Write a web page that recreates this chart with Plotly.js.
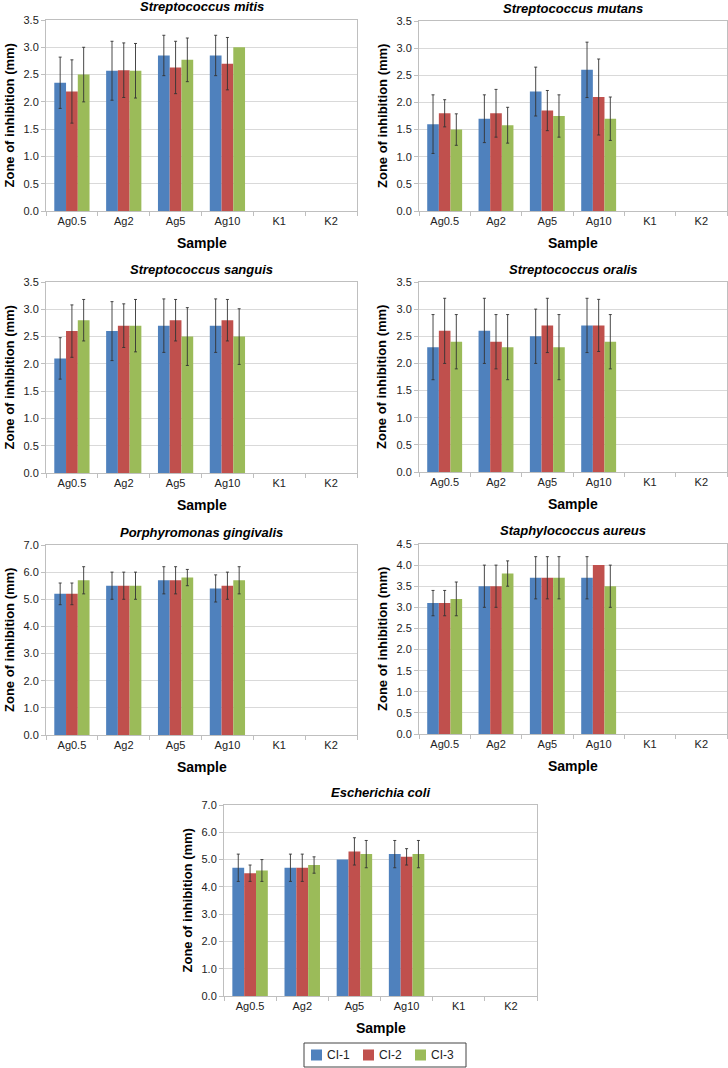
<!DOCTYPE html>
<html>
<head>
<meta charset="utf-8">
<script src="https://cdn.plot.ly/plotly-3.0.1.min.js"></script>
<style>html,body{margin:0;padding:0;background:#fff;}#chart{width:728px;height:1068px;}</style>
</head>
<body>
<div id="chart"></div>
<script>
// ---- data ----
const categories = ["Ag0.5", "Ag2", "Ag5", "Ag10", "K1", "K2"];
const seriesNames = ["CI-1", "CI-2", "CI-3"];

const titles = ["Streptococcus mitis", "Streptococcus mutans", "Streptococcus sanguis",
  "Streptococcus oralis", "Porphyromonas gingivalis", "Staphylococcus aureus", "Escherichia coli"];

// S. mitis
const mitisCI1 = [2.35, 2.57, 2.85, 2.85, 0, 0];
const mitisCI2 = [2.19, 2.58, 2.63, 2.70, 0, 0];
const mitisCI3 = [2.50, 2.57, 2.77, 3.00, 0, 0];
const mitisErr1 = [0.47, 0.54, 0.37, 0.37, 0, 0];
const mitisErr2 = [0.58, 0.50, 0.48, 0.48, 0, 0];
const mitisErr3 = [0.50, 0.50, 0.40, 0, 0, 0];

// S. mutans
const mutansCI1 = [1.60, 1.70, 2.20, 2.60, 0, 0];
const mutansCI2 = [1.80, 1.80, 1.85, 2.10, 0, 0];
const mutansCI3 = [1.50, 1.58, 1.75, 1.70, 0, 0];
const mutansErr1 = [0.54, 0.44, 0.45, 0.51, 0, 0];
const mutansErr2 = [0.25, 0.44, 0.37, 0.70, 0, 0];
const mutansErr3 = [0.29, 0.33, 0.39, 0.40, 0, 0];

// S. sanguis
const sanguisCI1 = [2.10, 2.60, 2.70, 2.70, 0, 0];
const sanguisCI2 = [2.60, 2.70, 2.80, 2.80, 0, 0];
const sanguisCI3 = [2.80, 2.70, 2.50, 2.50, 0, 0];
const sanguisErr1 = [0.38, 0.54, 0.49, 0.49, 0, 0];
const sanguisErr2 = [0.48, 0.40, 0.38, 0.38, 0, 0];
const sanguisErr3 = [0.38, 0.48, 0.53, 0.51, 0, 0];

// S. oralis
const oralisCI1 = [2.30, 2.60, 2.50, 2.70, 0, 0];
const oralisCI2 = [2.60, 2.40, 2.70, 2.70, 0, 0];
const oralisCI3 = [2.40, 2.30, 2.30, 2.40, 0, 0];
const oralisErr1 = [0.60, 0.60, 0.50, 0.50, 0, 0];
const oralisErr2 = [0.60, 0.50, 0.50, 0.48, 0, 0];
const oralisErr3 = [0.50, 0.60, 0.60, 0.50, 0, 0];

// P. gingivalis
const gingCI1 = [5.2, 5.5, 5.7, 5.4, 0, 0];
const gingCI2 = [5.2, 5.5, 5.7, 5.5, 0, 0];
const gingCI3 = [5.7, 5.5, 5.8, 5.7, 0, 0];
const gingErr1 = [0.4, 0.5, 0.5, 0.5, 0, 0];
const gingErr2 = [0.4, 0.5, 0.5, 0.5, 0, 0];
const gingErr3 = [0.5, 0.5, 0.3, 0.5, 0, 0];

// S. aureus
const aureusCI1 = [3.1, 3.5, 3.7, 3.7, 0, 0];
const aureusCI2 = [3.1, 3.5, 3.7, 4.0, 0, 0];
const aureusCI3 = [3.2, 3.8, 3.7, 3.5, 0, 0];
const aureusErr1 = [0.3, 0.5, 0.5, 0.5, 0, 0];
const aureusErr2 = [0.3, 0.5, 0.5, 0, 0, 0];
const aureusErr3 = [0.4, 0.3, 0.5, 0.5, 0, 0];

// E. coli
const coliCI1 = [4.7, 4.7, 5.0, 5.2, 0, 0];
const coliCI2 = [4.5, 4.7, 5.3, 5.1, 0, 0];
const coliCI3 = [4.6, 4.8, 5.2, 5.2, 0, 0];
const coliErr1 = [0.5, 0.5, 0, 0.5, 0, 0];
const coliErr2 = [0.3, 0.5, 0.5, 0.3, 0, 0];
const coliErr3 = [0.4, 0.3, 0.5, 0.5, 0, 0];

const yMax = [3.5, 3.5, 3.5, 3.5, 7.0, 4.5, 7.0];
const yStep = [0.5, 0.5, 0.5, 0.5, 1.0, 0.5, 1.0];

// ---- assembly ----
const panelValues = [
  [mitisCI1, mitisCI2, mitisCI3], [mutansCI1, mutansCI2, mutansCI3],
  [sanguisCI1, sanguisCI2, sanguisCI3], [oralisCI1, oralisCI2, oralisCI3],
  [gingCI1, gingCI2, gingCI3], [aureusCI1, aureusCI2, aureusCI3],
  [coliCI1, coliCI2, coliCI3]];
const panelErrors = [
  [mitisErr1, mitisErr2, mitisErr3], [mutansErr1, mutansErr2, mutansErr3],
  [sanguisErr1, sanguisErr2, sanguisErr3], [oralisErr1, oralisErr2, oralisErr3],
  [gingErr1, gingErr2, gingErr3], [aureusErr1, aureusErr2, aureusErr3],
  [coliErr1, coliErr2, coliErr3]];

const colors = ["#4F81BD", "#C0504D", "#9BBB59"];
const W = 728, H = 1068;
// plot-area pixel boxes [left, right, top, bottom]
const boxes = [
  [46, 357, 20, 211], [419, 727, 21, 211],
  [46, 357, 282, 473], [419, 727, 282, 472],
  [46, 357, 545, 735], [419, 727, 544, 734],
  [224, 537, 805, 996]];

const FONT = "Liberation Sans, Arial, sans-serif";
const traces = [];
const layout = {
  width: W, height: H,
  margin: {l: 0, r: 0, t: 0, b: 0},
  paper_bgcolor: "#fff", plot_bgcolor: "#fff",
  barmode: "group", bargap: 0.32, bargroupgap: 0,
  font: {family: FONT, color: "#222", size: 11},
  showlegend: false,
  annotations: [],
  shapes: []
};

boxes.forEach((b, i) => {
  const ax = i === 0 ? "" : String(i + 1);
  const xd = [b[0] / W, Math.min(b[1] / W, 1)];
  const yd = [1 - b[3] / H, 1 - b[2] / H];
  for (let s = 0; s < 3; s++) {
    // zero error -> no error bar drawn
    const errs = panelErrors[i][s].map(e => (e > 0 ? e : NaN));
    traces.push({
      type: "bar", x: categories, y: panelValues[i][s], name: seriesNames[s],
      xaxis: "x" + ax, yaxis: "y" + ax,
      marker: {color: colors[s]},
      error_y: {type: "data", array: errs, visible: true,
        color: "#333", thickness: 0.9, width: 1.5}
    });
  }
  layout["xaxis" + ax] = {
    domain: xd, anchor: "y" + ax, type: "category",
    showline: true, linecolor: "#bfbfbf", linewidth: 1, mirror: true,
    ticks: "outside", tickson: "boundaries", ticklen: 4, tickcolor: "#bfbfbf",
    showgrid: false, tickfont: {size: 11, family: FONT, color: "#222"},
    fixedrange: true
  };
  layout["yaxis" + ax] = {
    domain: yd, anchor: "x" + ax, range: [0, yMax[i]], dtick: yStep[i], tick0: 0,
    tickformat: ".1f", showline: true, linecolor: "#bfbfbf", linewidth: 1, mirror: true,
    ticks: "outside", ticklen: 4, tickcolor: "#bfbfbf",
    showgrid: true, gridcolor: "#d9d9d9", gridwidth: 1, zeroline: false,
    tickfont: {size: 11, family: FONT, color: "#222"}, fixedrange: true
  };
  const cx = (b[0] + b[1]) / 2 / W;
  layout.annotations.push({
    xref: "paper", yref: "paper", x: cx, y: 1 - (b[2] - 13) / H,
    text: "<b><i>" + titles[i] + "</i></b>", showarrow: false,
    font: {size: 13, family: FONT, color: "#000"}, xanchor: "center", yanchor: "middle"
  });
  layout.annotations.push({
    xref: "paper", yref: "paper", x: cx, y: 1 - (b[3] + 32) / H,
    text: "<b>Sample</b>", showarrow: false,
    font: {size: 14, family: FONT, color: "#000"}, xanchor: "center", yanchor: "middle"
  });
  layout.annotations.push({
    xref: "paper", yref: "paper", x: (b[0] - 37) / W, y: 1 - (b[2] + b[3]) / 2 / H,
    text: "<b>Zone of inhibition (mm)</b>", showarrow: false, textangle: -90,
    font: {size: 13, family: FONT, color: "#000"}, xanchor: "center", yanchor: "middle"
  });
});

// ---- legend (drawn as a boxed key, series names from seriesNames) ----
const legBox = [304, 466, 1043, 1067];
const py = v => 1 - v / H, px = v => v / W;
layout.shapes.push({type: "rect", xref: "paper", yref: "paper",
  x0: px(legBox[0]), x1: px(legBox[1]), y0: py(legBox[3]), y1: py(legBox[2]),
  line: {color: "#444", width: 1}, fillcolor: "rgba(0,0,0,0)"});
seriesNames.forEach((name, s) => {
  const sx = 311 + s * 52;
  const cy = (legBox[2] + legBox[3]) / 2;
  layout.shapes.push({type: "rect", xref: "paper", yref: "paper",
    x0: px(sx), x1: px(sx + 11), y0: py(cy + 5.5), y1: py(cy - 5.5),
    line: {width: 0}, fillcolor: colors[s]});
  layout.annotations.push({xref: "paper", yref: "paper", x: px(sx + 14), y: py(cy),
    text: name, showarrow: false, xanchor: "left", yanchor: "middle",
    font: {size: 12, family: FONT, color: "#222"}});
});

Plotly.newPlot("chart", traces, layout, {staticPlot: true, displayModeBar: false});
</script>
</body>
</html>
